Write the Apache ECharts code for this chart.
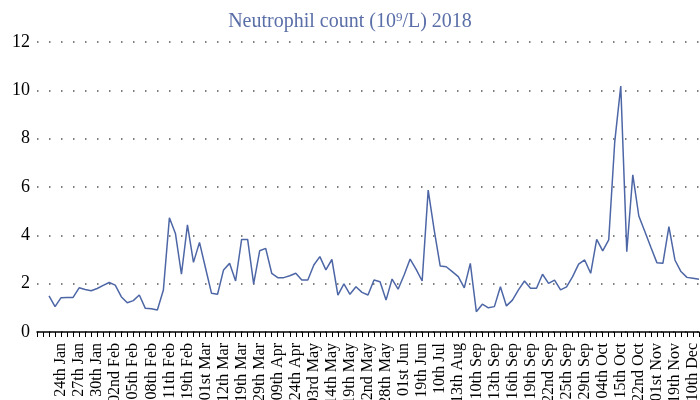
<!DOCTYPE html>
<html>
<head>
<meta charset="utf-8">
<script src="https://cdn.jsdelivr.net/npm/echarts@6/dist/echarts.min.js"></script>
<style>
  html, body { margin: 0; padding: 0; background: #fff; }
  #echart1 { width: 700px; height: 400px; }
</style>
</head>
<body>
<div id="echart1"></div>
<script>
  'use strict'

  /* x categories (dates of each count) */
  var dates = [
    '', '', '22nd Jan', '23rd Jan', '24th Jan', '25th Jan', '26th Jan', '27th Jan', '28th Jan', '29th Jan',
    '30th Jan', '31st Jan', '01st Feb', '02nd Feb', '03rd Feb', '04th Feb', '05th Feb', '06th Feb', '07th Feb', '08th Feb',
    '09th Feb', '10th Feb', '11th Feb', '13th Feb', '16th Feb', '19th Feb', '22nd Feb', '26th Feb', '01st Mar', '05th Mar',
    '08th Mar', '12th Mar', '14th Mar', '16th Mar', '19th Mar', '22nd Mar', '26th Mar', '29th Mar', '02nd Apr', '05th Apr',
    '09th Apr', '14th Apr', '19th Apr', '24th Apr', '27th Apr', '30th Apr', '03rd May', '07th May', '10th May', '14th May',
    '16th May', '17th May', '19th May', '20th May', '21st May', '22nd May', '24th May', '26th May', '28th May', '29th May',
    '30th May', '01st Jun', '07th Jun', '13th Jun', '19th Jun', '26th Jun', '03rd Jul', '10th Jul', '20th Jul', '01st Aug',
    '13th Aug', '23rd Aug', '03rd Sep', '10th Sep', '11th Sep', '12th Sep', '13th Sep', '14th Sep', '15th Sep', '16th Sep',
    '17th Sep', '18th Sep', '19th Sep', '20th Sep', '21st Sep', '22nd Sep', '23rd Sep', '24th Sep', '25th Sep', '26th Sep',
    '27th Sep', '29th Sep', '01st Oct', '02nd Oct', '04th Oct', '08th Oct', '12th Oct', '15th Oct', '17th Oct', '19th Oct',
    '22nd Oct', '25th Oct', '29th Oct', '01st Nov', '07th Nov', '13th Nov', '19th Nov', '26th Nov', '03rd Dec', '10th Dec',
    '17th Dec'
  ];

  /* neutrophil count, 10^9/L */
  var counts = [
    null, null, 1.49, 1.05, 1.42, 1.43, 1.43, 1.83, 1.76, 1.71,
    1.80, 1.93, 2.05, 1.94, 1.46, 1.21, 1.30, 1.53, 0.98, 0.96,
    0.91, 1.74, 4.73, 4.08, 2.39, 4.43, 2.88, 3.71, 2.65, 1.60,
    1.56, 2.57, 2.84, 2.11, 3.83, 3.83, 1.99, 3.36, 3.46, 2.43,
    2.25, 2.25, 2.33, 2.43, 2.15, 2.15, 2.77, 3.12, 2.57, 3.00,
    1.53, 1.99, 1.56, 1.87, 1.64, 1.53, 2.15, 2.08, 1.32, 2.19,
    1.77, 2.36, 3.02, 2.59, 2.11, 5.87, 4.22, 2.73, 2.70, 2.50,
    2.29, 1.83, 2.84, 0.84, 1.15, 1.00, 1.05, 1.87, 1.08, 1.32,
    1.74, 2.11, 1.81, 1.81, 2.39, 2.01, 2.15, 1.74, 1.87, 2.29,
    2.81, 2.98, 2.43, 3.83, 3.36, 3.81, 7.87, 10.18, 3.32, 6.50,
    4.80, 4.16, 3.51, 2.87, 2.84, 4.36, 2.98, 2.50, 2.26, 2.22,
    2.18
  ];

  var yMin = 0, yMax = 12, yStep = 2;

  var serif = "'Liberation Serif', 'DejaVu Serif', serif";

  var chart = echarts.init(document.getElementById('echart1'));

  var option = {
    animation: false,
    title: {
      text: '{a|Neutrophil count (10}{s|9}{a|/L) 2018}',
      left: 'center',
      top: 6,
      textStyle: {
        rich: {
          a: { fontFamily: serif, fontSize: 20, fontWeight: 'normal', color: '#5a6ea8', lineHeight: 22 },
          s: { fontFamily: serif, fontSize: 13, fontWeight: 'normal', color: '#5a6ea8', lineHeight: 13, verticalAlign: 'top' }
        }
      }
    },
    grid: {
      top: 42,
      left: 37,
      right: 1,
      bottom: 68,
      containLabel: false,
      outerBoundsMode: 'none'
    },
    tooltip: {
      trigger: 'axis'
    },
    xAxis: {
      type: 'category',
      data: dates,
      boundaryGap: false,
      axisLine: {
        lineStyle: { color: '#000', width: 1.5 }
      },
      axisTick: {
        interval: 0,
        length: 5,
        lineStyle: { color: '#000', width: 1 }
      },
      axisLabel: {
        interval: function (idx) { return idx % 3 === 1; },
        rotate: 90,
        margin: 11,
        fontFamily: serif,
        fontSize: 16,
        color: '#000'
      }
    },
    yAxis: {
      type: 'value',
      min: yMin,
      max: yMax,
      interval: yStep,
      axisLine: { show: false },
      axisTick: { show: false },
      axisLabel: {
        margin: 7,
        fontFamily: serif,
        fontSize: 18,
        color: '#000'
      },
      splitLine: {
        lineStyle: { color: '#555', width: 1.5, type: [1.5, 10.5] }
      }
    },
    series: [{
      name: 'Neutrophil count',
      type: 'line',
      data: counts,
      showSymbol: false,
      connectNulls: false,
      lineStyle: { color: '#4d66a6', width: 1.5 },
      itemStyle: { color: '#4d66a6' }
    }]
  };

  chart.setOption(option);
</script>
</body>
</html>
